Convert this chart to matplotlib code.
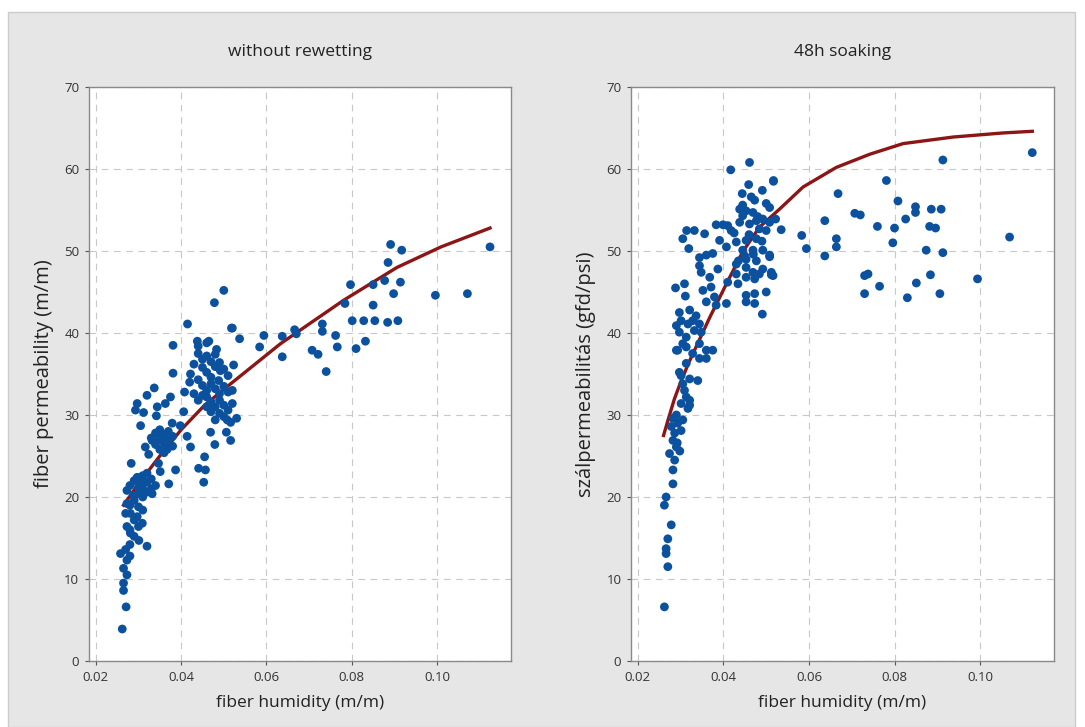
import matplotlib
matplotlib.use('Agg')
import matplotlib.pyplot as plt
import matplotlib.patches as mpatches

# --- left panel: without rewetting ---
hum_dry = [0.0891, 0.0917, 0.1124, 0.0885, 0.0797, 0.0850, 0.0877, 0.0914, 0.0898, 0.0996,
	0.1071, 0.0784, 0.0850, 0.0801, 0.0828, 0.0854, 0.0884, 0.0908, 0.0731, 0.0731,
	0.0666, 0.0670, 0.0637, 0.0594, 0.0584, 0.0637, 0.0707, 0.0721, 0.0762, 0.0766,
	0.0810, 0.0832, 0.0740, 0.0520, 0.0537, 0.0523, 0.0516,
	0.0500, 0.0478, 0.0415, 0.0518, 0.0381, 0.0438, 0.0465, 0.0483, 0.0381, 0.0422,
	0.0492, 0.0488, 0.0408, 0.0337, 0.0320, 0.0375, 0.0297, 0.0293, 0.0312, 0.0344,
	0.0363, 0.0342, 0.0305, 0.0406, 0.0379, 0.0398, 0.0414, 0.0422, 0.0469, 0.0479,
	0.0506, 0.0516, 0.0508, 0.0316, 0.0324, 0.0332, 0.0351, 0.0367, 0.0347, 0.0283,
	0.0387, 0.0455, 0.0441, 0.0457, 0.0453, 0.0351, 0.0371, 0.0297, 0.0309, 0.0273,
	0.0289, 0.0332, 0.0273, 0.0281, 0.0297, 0.0309, 0.0273, 0.0281, 0.0301, 0.0320,
	0.0258, 0.0273, 0.0265, 0.0273, 0.0265, 0.0265, 0.0271, 0.0262,
	0.044, 0.045, 0.046, 0.047, 0.045, 0.046, 0.047, 0.048, 0.044, 0.045,
	0.046, 0.047, 0.048, 0.049, 0.050, 0.051, 0.046, 0.047, 0.048, 0.049,
	0.050, 0.051, 0.052, 0.049, 0.050, 0.048, 0.047, 0.046, 0.045, 0.044,
	0.043, 0.043, 0.042, 0.053, 0.052, 0.051, 0.050, 0.049, 0.048, 0.044, 0.046,
	0.034, 0.035, 0.036, 0.037, 0.035, 0.036, 0.034, 0.037, 0.038, 0.035, 0.036, 0.033, 0.038,
	0.028, 0.029, 0.030, 0.031, 0.032, 0.033, 0.030, 0.031, 0.032, 0.029,
	0.030, 0.031, 0.029, 0.030, 0.028, 0.029, 0.031, 0.032, 0.033, 0.034,
	0.028, 0.027, 0.028, 0.027, 0.028]
perm_dry = [50.8, 50.1, 50.5, 48.6, 45.9, 45.9, 46.4, 46.2, 44.8, 44.6,
	44.8, 43.6, 43.4, 41.5, 41.5, 41.5, 41.3, 41.5, 41.1, 40.2,
	40.4, 39.9, 39.6, 39.7, 38.3, 37.1, 37.9, 37.4, 39.7, 38.3,
	38.1, 39.0, 35.3, 40.6, 39.3, 36.1, 29.1,
	45.2, 43.7, 41.1, 40.6, 38.5, 39.0, 39.0, 38.0, 35.1, 35.0,
	35.4, 34.2, 32.8, 33.3, 32.4, 32.2, 31.4, 30.6, 30.3, 31.0,
	31.4, 29.9, 28.7, 30.4, 29.0, 28.7, 27.4, 26.1, 27.9, 26.4,
	27.9, 26.9, 29.4, 26.1, 25.2, 26.9, 27.3, 25.8, 24.1, 24.1,
	23.3, 24.9, 23.5, 23.3, 21.8, 23.1, 21.6, 22.4, 21.6, 20.8,
	20.2, 20.4, 19.2, 18.0, 17.6, 16.8, 16.4, 15.6, 14.7, 14.0,
	13.1, 12.3, 11.3, 10.5, 9.5, 8.6, 6.6, 3.9,
	37.5, 36.8, 37.2, 36.5, 35.8, 35.2, 34.6, 35.9, 34.3, 33.6,
	33.0, 33.8, 33.2, 32.6, 33.5, 32.8, 32.2, 31.6, 31.0, 31.8,
	31.2, 30.6, 31.4, 30.2, 29.8, 29.4, 30.4, 31.0, 32.4, 31.8,
	32.6, 36.2, 34.0, 29.6, 33.0, 34.8, 35.6, 36.4, 37.4, 38.4, 38.8,
	27.8, 28.2, 27.6, 28.0, 27.0, 26.6, 26.4, 26.9, 27.4, 25.8, 25.4, 27.2, 26.2,
	21.4, 22.0, 21.2, 22.6, 21.8, 21.0, 20.4, 20.0, 20.6, 19.6,
	18.8, 18.4, 17.2, 16.4, 16.0, 15.2, 21.0, 22.9, 22.2, 21.4,
	19.0, 18.0, 14.2, 13.6, 12.8]

# fitted curve
fit_x_dry = [0.0265, 0.030, 0.035, 0.040, 0.0455, 0.0516, 0.0633, 0.0781, 0.0906, 0.1009, 0.1109, 0.1124]
fit_y_dry = [19.0, 21.6, 25.0, 28.2, 31.2, 33.8, 38.7, 44.0, 48.0, 50.5, 52.5, 52.8]

# --- right panel: 48h soaking ---
hum_soak = [0.1122, 0.0913, 0.0517, 0.0781, 0.0668, 0.0508, 0.0808, 0.0707, 0.0720, 0.0849,
	0.0849, 0.0886, 0.0909, 0.0826, 0.0522, 0.0535, 0.0637, 0.0760, 0.0800, 0.0882,
	0.0896, 0.0583, 0.0594, 0.0664, 0.0664, 0.0637, 0.0796, 0.0874, 0.0913, 0.1069,
	0.0508, 0.0512, 0.0516, 0.0730, 0.0738, 0.0730, 0.0765, 0.0851, 0.0884, 0.0830,
	0.0906, 0.0994,
	0.0417, 0.0461, 0.0517, 0.0459, 0.0444, 0.0491, 0.0473, 0.0500, 0.0438, 0.0453,
	0.0469, 0.0445, 0.0477, 0.0461, 0.0492, 0.0508, 0.0438, 0.0484, 0.0500, 0.0383,
	0.0399, 0.0410, 0.0418, 0.0314, 0.0332, 0.0356, 0.0305, 0.0319, 0.0391, 0.0407,
	0.0430, 0.0453, 0.0477, 0.0445, 0.0469, 0.0492, 0.0508, 0.0453, 0.0477, 0.0344,
	0.0360, 0.0375, 0.0344, 0.0348, 0.0368, 0.0387, 0.0430, 0.0453, 0.0469, 0.0492,
	0.0512, 0.0430, 0.0410, 0.0434, 0.0453, 0.0473, 0.0484, 0.0288, 0.0309, 0.0311,
	0.0352, 0.0371, 0.0379, 0.0360, 0.0383, 0.0407, 0.0453, 0.0473, 0.0453, 0.0473,
	0.0500, 0.0491,
	0.0297, 0.0321, 0.0336, 0.0301, 0.0317, 0.0290, 0.0344, 0.0332, 0.0297, 0.0313,
	0.0348, 0.0344, 0.0360, 0.0375, 0.0328, 0.0290, 0.0305, 0.0344, 0.0360, 0.0313,
	0.0297, 0.0321, 0.0340, 0.0305, 0.0313, 0.0301, 0.0321,
	0.0328, 0.0293, 0.0313, 0.0301, 0.0309, 0.0321, 0.0317, 0.0282, 0.0293, 0.0301,
	0.0282, 0.0290, 0.0274, 0.0286, 0.0282, 0.0282, 0.0266, 0.0262, 0.0278, 0.0270,
	0.0266, 0.0266, 0.0270, 0.0262,
	0.0445, 0.0465, 0.0480, 0.0460, 0.0425, 0.0490, 0.0470, 0.0450, 0.0435,
	0.0286, 0.0292, 0.0298, 0.0278, 0.0290, 0.0305]
perm_soak = [62.0, 61.1, 58.6, 58.6, 57.0, 55.3, 56.1, 54.6, 54.4, 55.4,
	54.7, 55.1, 55.1, 53.9, 53.9, 52.6, 53.7, 53.0, 52.8, 53.0,
	52.8, 51.9, 50.3, 51.5, 50.5, 49.4, 51.0, 50.1, 49.8, 51.7,
	49.5, 47.4, 47.0, 47.0, 47.2, 44.8, 45.7, 46.1, 47.1, 44.3,
	44.8, 46.6,
	59.9, 60.8, 58.5, 58.1, 57.0, 57.4, 56.2, 55.8, 55.1, 54.9,
	54.7, 54.3, 53.7, 53.3, 53.9, 53.5, 53.5, 52.7, 52.5, 53.2,
	53.2, 53.1, 52.5, 52.5, 52.5, 52.1, 51.5, 50.3, 51.3, 50.5,
	51.1, 51.3, 51.5, 50.1, 50.1, 50.1, 49.3, 49.0, 48.8, 49.2,
	49.5, 49.7, 48.2, 47.4, 46.8, 47.8, 48.4, 48.0, 47.4, 47.8,
	47.1, 47.2, 46.2, 46.0, 46.8, 46.6, 47.2, 45.5, 46.0, 44.5,
	45.2, 45.6, 44.4, 43.8, 43.4, 43.6, 44.6, 44.8, 43.8, 43.6,
	45.0, 42.3,
	42.5, 42.8, 42.1, 41.5, 41.1, 40.9, 41.1, 40.3, 40.1, 39.5,
	40.1, 38.7, 37.9, 37.9, 37.5, 37.9, 38.7, 36.9, 36.9, 36.3,
	35.2, 34.4, 34.2, 33.8, 32.2, 31.4, 31.2,
	41.5, 37.9, 38.3, 34.8, 33.0, 31.8, 30.8, 29.6, 29.0, 28.1,
	26.9, 26.1, 25.3, 24.5, 23.3, 21.6, 20.0, 19.0, 16.6, 14.9,
	13.7, 13.1, 11.5, 6.6,
	55.6, 56.6, 54.2, 52.0, 52.2, 51.2, 49.6, 49.4, 48.8,
	27.8, 26.6, 25.6, 28.6, 30.0, 29.4]

fit_x_soak = [0.0260, 0.0270, 0.0285, 0.0300, 0.0320, 0.0344, 0.0368, 0.0407, 0.0445, 0.0484, 0.0531,
	0.0586, 0.0664, 0.0742, 0.0820, 0.0937, 0.1054, 0.1122]
fit_y_soak = [27.5, 29.3, 31.9, 34.0, 36.5, 39.2, 41.9, 46.0, 49.9, 52.9, 55.1,
	57.8, 60.2, 61.8, 63.1, 63.9, 64.4, 64.6]

xticks = [0.02, 0.04, 0.06, 0.08, 0.10]
xlabels = ['0.02', '0.04', '0.06', '0.08', '0.10']
yticks = [0, 10, 20, 30, 40, 50, 60, 70]

dot_color = '#0b519e'
fit_color = '#8c1515'
grid_color = '#c8c8c8'
font = ['Open Sans', 'DejaVu Sans']

def panel(ax, hx, hy, fx, fy, title, ylabel):
	ax.set_facecolor('white')
	ax.plot(fx, fy, color=fit_color, linewidth=2.4, zorder=2)
	ax.scatter(hx, hy, s=40, color=dot_color, edgecolors='none', zorder=3)
	ax.set_xlim(0.0184, 0.1173)
	ax.set_ylim(0, 70)
	ax.set_xticks(xticks, labels=xlabels)
	ax.set_yticks(yticks)
	ax.grid(True, color=grid_color, linestyle=(0, (6, 5)), linewidth=0.8)
	ax.set_axisbelow(True)
	ax.tick_params(labelsize=9.5, colors='#555555', length=3, width=0.8, labelcolor='#333333', pad=4)
	for t in ax.get_xticklabels() + ax.get_yticklabels():
		t.set_family(font)
	for sp in ax.spines.values():
		sp.set_color('#8a8a8a')
		sp.set_linewidth(1.0)
	ax.set_title(title, fontsize=12.5, pad=22, color='#222222', family=font)
	ax.set_xlabel('fiber humidity (m/m)', fontsize=12.5, labelpad=8, color='#222222', family=font)
	ax.set_ylabel(ylabel, fontsize=14.5, labelpad=7, color='#222222', family=font)

fig = plt.figure(figsize=(10.85, 7.27), dpi=100)
fig.patch.set_facecolor('white')
fig.patches.append(mpatches.Rectangle((8 / 1085, 0), 1067 / 1085, 715 / 727,
	transform=fig.transFigure, facecolor='#e6e6e6', edgecolor='#cccccc', linewidth=1.0, zorder=-10))

ax1 = fig.add_axes([0.0820, 0.0908, 0.3889, 0.7895])
panel(ax1, hum_dry, perm_dry, fit_x_dry, fit_y_dry, 'without rewetting', 'fiber permeability (m/m)')

ax2 = fig.add_axes([0.5816, 0.0908, 0.3899, 0.7895])
panel(ax2, hum_soak, perm_soak, fit_x_soak, fit_y_soak, '48h soaking', 'szálpermeabilitás (gfd/psi)')

plt.savefig('out.png', dpi=100, facecolor=fig.get_facecolor())
